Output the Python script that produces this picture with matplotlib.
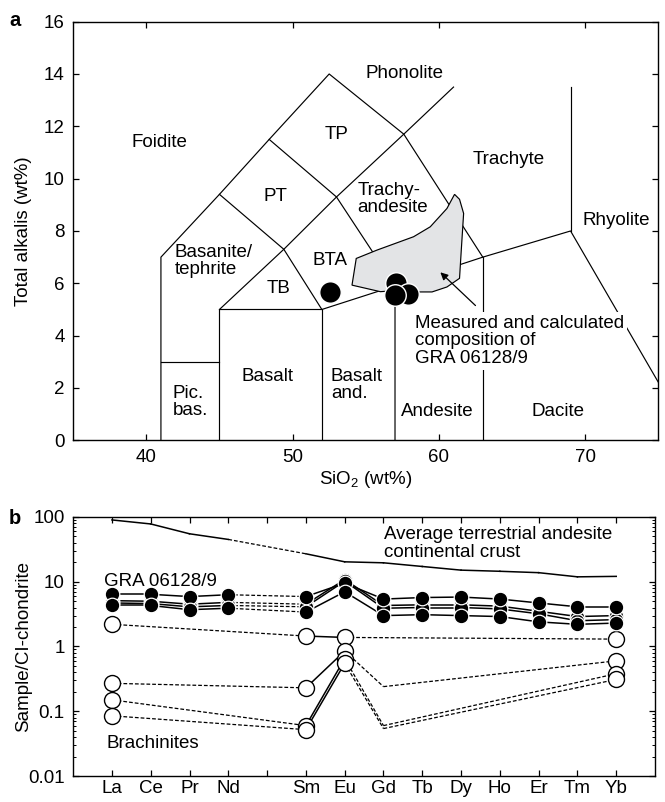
import numpy as np
import matplotlib.pyplot as plt
from matplotlib.patches import Polygon

plt.rcParams['font.family'] = ['Liberation Sans', 'DejaVu Sans']
plt.rcParams['mathtext.fontset'] = 'custom'
plt.rcParams['mathtext.rm'] = 'Liberation Sans'
FS = 13.5

# ---- panel a: TAS diagram ----
tas_boundaries = [
    [(41, 0), (41, 7), (45, 9.4), (48.4, 11.5), (52.5, 14), (57.6, 11.7), (63, 7)],
    [(45, 0), (45, 5), (52, 5), (52, 0)],
    [(41, 3), (45, 3)],
    [(45, 5), (49.4, 7.3), (53, 9.3), (57.6, 11.7), (61, 13.5)],
    [(45, 9.4), (49.4, 7.3), (52, 5), (57, 5.9), (63, 7), (69, 8), (77.3, 0)],
    [(48.4, 11.5), (53, 9.3), (57, 5.9), (57, 0)],
    [(63, 7), (63, 0)],
    [(69, 8), (69, 13.5)],
]

field_names = ["Foidite", "Phonolite", "TP", "PT", "Trachyte", "Trachy-\nandesite",
               "Rhyolite", "Basanite/\ntephrite", "BTA", "TB", "Basalt", "Basalt\nand.",
               "Pic.\nbas.", "Andesite", "Dacite"]
field_x = [40.9, 57.65, 53.0, 48.8, 64.8, 56.85, 72.1, 44.6, 52.55, 49.05, 48.3, 54.4,
           43.0, 59.9, 68.15]
field_y = [11.4, 14.0, 11.67, 9.3, 10.74, 9.21, 8.4, 6.84, 6.88, 5.82, 2.45, 2.1,
           1.48, 1.1, 1.1]

field_area_x = [54.06, 54.35, 55.77, 58.27, 59.41, 60.55, 61.07, 61.41, 61.69, 61.53,
                61.41, 60.55, 59.53, 58.61, 56.5, 56.0]
field_area_y = [5.93, 6.95, 7.27, 7.78, 8.16, 8.86, 9.40, 9.21, 8.67, 7.27,
                6.19, 5.86, 5.67, 5.67, 5.7, 5.68]

gra_sio2 = [52.55, 57.05, 57.9, 57.0]
gra_alkali = [5.66, 6.0, 5.6, 5.57]

# ---- panel b: REE pattern ----
elements = ["La", "Ce", "Pr", "Nd", "Pm", "Sm", "Eu", "Gd", "Tb", "Dy", "Ho", "Er", "Tm", "Yb"]
tick_labels = ["La", "Ce", "Pr", "Nd", "", "Sm", "Eu", "Gd", "Tb", "Dy", "Ho", "Er", "Tm", "Yb"]
nan = np.nan
crust = [90, 78, 55, 45, nan, 27, 20.3, 19.6, 17.2, 15.1, 14.5, 13.8, 11.9, 12.1]
gra_a = [6.4, 6.4, 5.9, 6.3, nan, 5.9, 9.5, 5.4, 5.7, 5.8, 5.4, 4.7, 4.1, 4.1]
gra_b = [5.1, 5.0, 4.5, 4.8, nan, 4.5, 10.8, 4.3, 4.4, 4.4, 4.2, 3.5, 2.9, 3.0]
gra_c = [4.7, 4.6, 4.1, 4.3, nan, 4.1, 10.2, 3.9, 4.0, 4.0, 3.8, 3.2, 2.5, 2.6]
gra_d = [4.3, 4.3, 3.7, 3.9, nan, 3.4, 7.0, 3.0, 3.1, 3.0, 2.9, 2.4, 2.2, 2.3]
brach_1 = [2.2, nan, nan, nan, nan, 1.45, 1.38, nan, nan, nan, nan, nan, nan, 1.3]
brach_2 = [0.27, nan, nan, nan, nan, 0.23, 0.85, 0.24, nan, nan, nan, nan, nan, 0.60]
brach_3 = [0.15, nan, nan, nan, nan, 0.060, 0.65, 0.060, nan, nan, nan, nan, nan, 0.38]
brach_4 = [0.085, nan, nan, nan, nan, 0.052, 0.55, 0.054, nan, nan, nan, nan, nan, 0.31]
brach_unmarked = ["Gd"]

fig = plt.figure(figsize=(6.65, 8.02), dpi=100)
ax1 = fig.add_axes([0.110, 0.451, 0.880, 0.522])
ax2 = fig.add_axes([0.110, 0.0324, 0.875, 0.323])

# --- a ---
for line in tas_boundaries:
    xs, ys = zip(*line)
    ax1.plot(xs, ys, color='k', lw=0.85, zorder=2)

ax1.add_patch(Polygon(list(zip(field_area_x, field_area_y)), closed=True,
                      fc='#e3e4e6', ec='k', lw=0.85, zorder=3))

for name, x, y in zip(field_names, field_x, field_y):
    ax1.text(x, y, name, ha='center', va='center', multialignment='left',
             fontsize=FS, linespacing=1.0, zorder=4)

ax1.text(58.4, 3.8, "Measured and calculated\ncomposition of\nGRA 06128/9",
         ha='left', va='center', fontsize=FS, linespacing=1.05, zorder=4,
         bbox=dict(fc='white', ec='none', pad=2))
ax1.annotate('', xy=(60.1, 6.42), xytext=(62.5, 5.15),
             arrowprops=dict(arrowstyle='-|>', color='k', lw=0.9,
                             mutation_scale=11, shrinkA=0, shrinkB=0), zorder=5)

ax1.plot(gra_sio2, gra_alkali, 'o', ms=15.5, mfc='k', mec='white', mew=1.0,
         ls='none', zorder=6)

ax1.set_xlim(35, 75)
ax1.set_ylim(0, 16)
ax1.set_xticks([40, 50, 60, 70])
ax1.set_yticks(range(0, 17, 2))
ax1.tick_params(direction='in', top=True, right=True, length=4, width=0.9,
                labelsize=FS, pad=6)
ax1.set_xlabel("SiO$_2$ (wt%)", fontsize=FS)
ax1.set_ylabel("Total alkalis (wt%)", fontsize=FS)
ax1.xaxis.set_label_coords(0.5, -0.068)
ax1.yaxis.set_label_coords(-0.07, 0.5)

# --- b ---
pos = np.arange(1, len(elements) + 1)


def draw_series(ax, vals, solid_pair, filled=None, unmarked=()):
    v = np.asarray(vals, dtype=float)
    idx = np.where(np.isfinite(v))[0]
    for a, b in zip(idx[:-1], idx[1:]):
        if solid_pair(a, b):
            ax.plot(pos[[a, b]], v[[a, b]], color='k', lw=1.1, zorder=2)
        else:
            ax.plot(pos[[a, b]], v[[a, b]], color='k', lw=0.9, ls=(0, (3, 1.6)), zorder=2)
    if filled is None:
        return
    mk = [i for i in idx if elements[i] not in unmarked]
    if filled:
        ax.plot(pos[mk], v[mk], 'o', ms=10.5, mfc='k', mec='white', mew=0.9,
                ls='none', zorder=4)
    else:
        ax.plot(pos[mk], v[mk], 'o', ms=11.5, mfc='white', mec='k', mew=1.0,
                ls='none', zorder=3)


def adjacent(a, b):
    return b == a + 1


def sm_eu(a, b):
    return elements[a] == "Sm" and elements[b] == "Eu"


draw_series(ax2, crust, adjacent)
for s in [brach_1, brach_2, brach_3, brach_4]:
    draw_series(ax2, s, sm_eu, filled=False, unmarked=brach_unmarked)
for s in [gra_b, gra_c, gra_a, gra_d]:
    draw_series(ax2, s, adjacent, filled=True)

ax2.text(8.02, 39.4, "Average terrestrial andesite\ncontinental crust", ha='left',
         va='center', fontsize=FS, linespacing=1.1)
ax2.text(0.8, 10.2, "GRA 06128/9", ha='left', va='center', fontsize=FS)
ax2.text(0.85, 0.032, "Brachinites", ha='left', va='center', fontsize=FS)

ax2.set_yscale('log')
ax2.set_ylim(0.01, 100)
ax2.set_xlim(0, 15)
ax2.set_xticks(pos)
ax2.set_xticklabels(tick_labels)
ax2.set_yticks([0.01, 0.1, 1, 10, 100])
ax2.set_yticklabels(["0.01", "0.1", "1", "10", "100"])
ax2.tick_params(which='major', direction='in', top=True, right=True, length=4,
                width=0.9, labelsize=FS, pad=6)
ax2.tick_params(axis='x', which='major', pad=3)
ax2.tick_params(which='minor', direction='in', top=False, right=True, length=2,
                width=0.7)
ax2.minorticks_on()
ax2.xaxis.set_minor_locator(plt.NullLocator())
ax2.set_ylabel("Sample/CI-chondrite", fontsize=FS)
ax2.yaxis.set_label_coords(-0.07, 0.5)

for ax in (ax1, ax2):
    for sp in ax.spines.values():
        sp.set_linewidth(1.0)

fig.text(0.022, 0.974, "a", fontsize=FS + 1, fontweight='bold', ha='center', va='center')
fig.text(0.022, 0.353, "b", fontsize=FS + 1, fontweight='bold', ha='center', va='center')

fig.savefig("out.png", dpi=100)
